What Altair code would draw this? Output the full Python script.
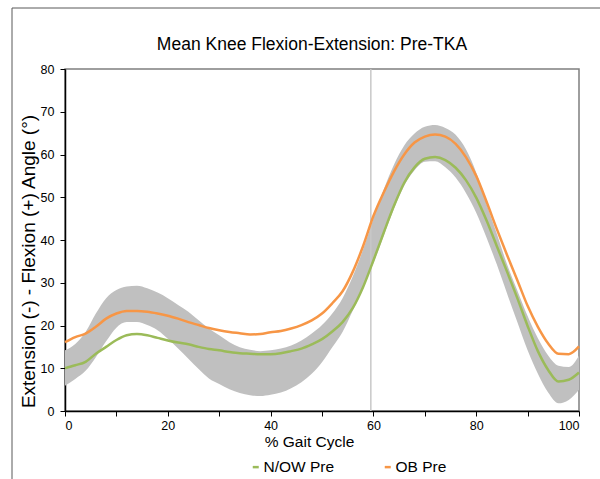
import altair as alt
import pandas as pd

# % gait cycle sampled every 2 %
gait_pct = list(range(0, 101, 2))

# Mean knee angle (deg), normal / overweight group
nw_pre = [10.0, 10.7, 11.5, 13.4, 15.0, 16.6, 17.7, 18.0, 17.7, 17.1,
          16.5, 16.0, 15.6, 15.0, 14.5, 14.2, 13.8, 13.5, 13.4, 13.3,
          13.3, 13.5, 14.0, 14.6, 15.6, 16.8, 18.6, 20.8, 24.1, 29.0,
          35.2, 41.7, 48.0, 53.4, 57.0, 59.0, 59.4, 58.7, 56.9, 54.0,
          49.9, 44.6, 38.6, 32.6, 26.4, 19.9, 14.0, 9.6, 6.9, 7.3, 9.0]

# Mean knee angle (deg), obese group
ob_pre = [16.1, 17.3, 18.1, 19.7, 21.6, 22.8, 23.4, 23.4, 23.2, 22.8,
          22.3, 21.6, 20.8, 20.1, 19.4, 18.9, 18.5, 18.2, 17.9, 18.0,
          18.4, 18.7, 19.3, 20.1, 21.2, 22.8, 25.2, 28.0, 32.6, 38.6,
          45.6, 51.1, 56.0, 60.0, 62.8, 64.2, 64.7, 64.2, 62.5, 59.4,
          55.0, 49.0, 42.6, 36.5, 30.6, 24.6, 19.7, 15.8, 13.4, 13.3, 15.1]

# Normative band (upper / lower limits)
band_hi = [14.2, 15.7, 18.5, 22.8, 26.4, 28.3, 29.1, 29.3, 28.7, 27.7,
           26.4, 24.8, 23.2, 21.2, 19.3, 17.7, 16.1, 14.9, 14.3, 14.0,
           14.2, 14.6, 15.3, 16.5, 18.1, 20.1, 22.8, 26.4, 31.5, 37.8,
           45.0, 51.8, 57.6, 62.1, 64.9, 66.5, 66.9, 66.2, 64.6, 61.2,
           55.8, 48.5, 41.5, 34.3, 28.2, 22.2, 17.0, 13.0, 10.6, 10.3, 13.0]
band_lo = [5.9, 7.5, 9.4, 12.6, 16.3, 19.5, 20.8, 20.8, 20.1, 18.9,
           16.9, 14.6, 12.2, 9.8, 7.6, 6.3, 5.1, 4.2, 3.7, 3.5,
           3.8, 4.3, 5.3, 6.7, 8.7, 11.4, 14.9, 18.5, 23.5, 28.8,
           34.6, 41.0, 47.3, 52.7, 56.3, 58.3, 58.4, 57.0, 54.6, 51.0,
           46.4, 40.6, 34.3, 27.5, 20.8, 14.2, 8.7, 4.3, 1.8, 2.6, 5.0]

series_names = ["N/OW Pre", "OB Pre"]
series_colors = ["#9BBB59", "#F79646"]

# toe-off marker
toe_off = [59.5]

W, H = 514, 342
FONT = "Liberation Sans"

band_df = pd.DataFrame({"pct": gait_pct, "hi": band_hi, "lo": band_lo})
lines_df = pd.DataFrame({
    "pct": gait_pct * 2,
    "angle": nw_pre + ob_pre,
    "group": [series_names[0]] * len(gait_pct) + [series_names[1]] * len(gait_pct),
})

x_scale = alt.Scale(domain=[0, 100], nice=False)
y_scale = alt.Scale(domain=[0, 80], nice=False)

x_axis = alt.Axis(
    values=list(range(0, 101, 10)),
    labelExpr="datum.value % 20 == 0 ? datum.label : ''",
    title="% Gait Cycle",
    titleX=244, titleY=30, titleBaseline="middle", titleAlign="center",
    titleFontSize=15.5, titleFontWeight="normal",
    tickSize=5, labelPadding=3, grid=False,
)
y_axis = alt.Axis(
    values=list(range(0, 81, 10)),
    title="Extension (-) - Flexion (+) Angle (°)",
    titleX=-37, titleY=192, titleBaseline="middle", titleAlign="center",
    titleAngle=-90, titleFontSize=19, titleFontWeight="normal",
    tickSize=5, labelPadding=6, grid=False,
)

band = alt.Chart(band_df).mark_area(
    color="#C0C0C0", opacity=1, interpolate="monotone"
).encode(
    x=alt.X("pct:Q", scale=x_scale, axis=x_axis),
    y=alt.Y("hi:Q", scale=y_scale, axis=y_axis),
    y2="lo:Q",
)

marker = alt.Chart(pd.DataFrame({"pct": toe_off})).mark_rule(
    color="#C8C8C8", strokeWidth=1.5
).encode(
    x=alt.X("pct:Q", scale=x_scale),
    y=alt.value(0),
    y2=alt.value(H),
)

lines = alt.Chart(lines_df).mark_line(
    strokeWidth=2.5, interpolate="monotone"
).encode(
    x=alt.X("pct:Q", scale=x_scale),
    y=alt.Y("angle:Q", scale=y_scale),
    color=alt.Color(
        "group:N",
        scale=alt.Scale(domain=series_names, range=series_colors),
        legend=alt.Legend(
            orient="none", legendX=183, legendY=390, direction="horizontal",
            title=None, symbolType="stroke", symbolSize=36,
            symbolStrokeWidth=2.5, labelFontSize=15.5, labelOffset=0,
            columnPadding=44, labelFont=FONT, labelColor="#000000",
        ),
    ),
)

# outer chart frame
frame_left = alt.Chart(alt.Data(values=[{}])).mark_rule(
    color="#595959", strokeWidth=1
).encode(x=alt.value(-53), y=alt.value(-61), y2=alt.value(H + 80))
frame_top = alt.Chart(alt.Data(values=[{}])).mark_rule(
    color="#595959", strokeWidth=1
).encode(x=alt.value(-53), x2=alt.value(W + 40), y=alt.value(-61))

chart = alt.layer(band, marker, lines, frame_left, frame_top).properties(
    width=W, height=H,
    background="#FFFFFF",
    autosize=alt.AutoSizeParams(type="none"),
    padding={"left": 65, "top": 69, "right": 21, "bottom": 68},
    title=alt.TitleParams(
        "Mean Knee Flexion-Extension: Pre-TKA",
        fontSize=17.5, font=FONT, fontWeight="normal", color="#000000",
        anchor="middle", dx=-10, dy=78, offset=18, baseline="alphabetic",
    ),
).configure_view(
    stroke="#7F7F7F", strokeWidth=1.5
).configure_axis(
    domainColor="#000000", domainWidth=1.5, tickColor="#000000",
    tickWidth=1, labelFont=FONT, labelFontSize=12.5, labelColor="#000000",
    titleFont=FONT, titleColor="#000000",
)

chart.save("out.html", embed_options={"renderer": "svg", "actions": False})
